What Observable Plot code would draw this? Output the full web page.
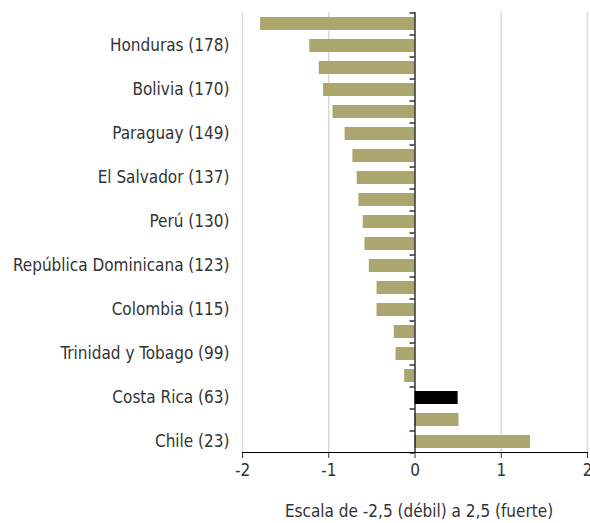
<!DOCTYPE html>
<html>
<head>
<meta charset="utf-8">
<script src="https://cdn.jsdelivr.net/npm/d3@7"></script>
<script src="https://cdn.jsdelivr.net/npm/@observablehq/plot@0.6"></script>
<style>
  html, body { margin: 0; padding: 0; background: #fff; }
  #chart svg { font-family: "DejaVu Sans Condensed", "DejaVu Sans", sans-serif; font-stretch: condensed; }
</style>
</head>
<body>
<div id="chart"></div>
<script>
// Tick labels (only every other bar is labelled in the original)
const labels = [
  "", "Honduras (178)", "", "Bolivia (170)", "", "Paraguay (149)", "", "El Salvador (137)",
  "", "Perú (130)", "", "República Dominicana (123)", "", "Colombia (115)", "",
  "Trinidad y Tobago (99)", "", "Costa Rica (63)", "", "Chile (23)"
];
// Scores (scale -2.5 weak to 2.5 strong)
const values = [
  -1.79, -1.22, -1.11, -1.06, -0.95, -0.81, -0.72, -0.67, -0.65, -0.60,
  -0.58, -0.53, -0.44, -0.44, -0.24, -0.22, -0.12, 0.50, 0.51, 1.34
];
// Highlighted bar (Costa Rica)
const highlight = [false, false, false, false, false, false, false, false, false, false,
  false, false, false, false, false, false, false, true, false, false];
const xTicks = [-2, -1, 0, 1, 2];
const gridTicks = [-2, -1, 1, 2];
const xLabel = "Escala de -2,5 (débil) a 2,5 (fuerte)";

const data = values.map((v, i) => ({i, v, h: highlight[i]}));
const idx = data.map(d => d.i);

const chart = Plot.plot({
  width: 590,
  height: 523,
  marginLeft: 242,
  marginRight: 3,
  marginTop: 12,
  marginBottom: 71,
  style: {fontSize: "17px", color: "#333", background: "#fff"},
  x: {domain: [-2, 2]},
  y: {domain: idx, paddingInner: 0.43, paddingOuter: 0.215},
  marks: [
    Plot.gridX(gridTicks, {stroke: "#d9d9d9", strokeOpacity: 1, strokeWidth: 1.5}),
    Plot.barX(data, {x: "v", y: "i", fill: d => d.h ? "#000000" : "#aba66e"}),
    Plot.ruleX([0], {stroke: "#000", strokeWidth: 1.2}),
    Plot.ruleY(idx, {y: d => d, x1: 0, x2: 0, insetLeft: -5, dy: -11, stroke: "#000", strokeWidth: 1.2}),
    Plot.ruleY([idx[idx.length - 1]], {y: d => d, x1: 0, x2: 0, insetLeft: -5, dy: 11, stroke: "#000", strokeWidth: 1.2}),
    Plot.axisY({tickSize: 0, tickPadding: 13, tickFormat: i => labels[i], label: null, anchor: "left", fontSize: 17}),
    Plot.axisX(xTicks, {tickSize: 6, tickPadding: 5, label: null, fontSize: 17, tickFormat: d => String(d)}),
    Plot.frame({anchor: "bottom", stroke: "#000", strokeWidth: 1.2}),
    Plot.text([xLabel], {frameAnchor: "bottom", dy: 64, dx: 4, fontSize: 17, fill: "#333"})
  ]
});
document.getElementById("chart").appendChild(chart);
</script>
</body>
</html>
